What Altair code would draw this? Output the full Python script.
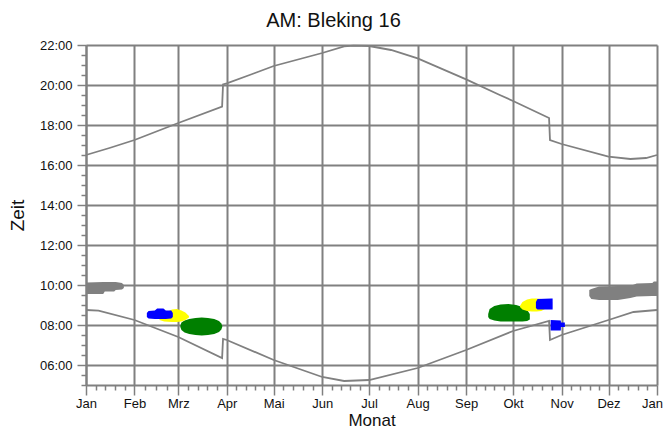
import altair as alt
import pandas as pd

# ---------------- data ----------------
month_labels = ["Jan", "Feb", "Mrz", "Apr", "Mai", "Jun", "Jul", "Aug", "Sep", "Okt", "Nov", "Dez", "Jan"]
month_start = [0, 31, 59, 90, 120, 151, 181, 212, 243, 273, 304, 334, 365]
hour_ticks = [6, 8, 10, 12, 14, 16, 18, 20, 22]

# upper curve (day of year, hour)
upper_day = [0, 15, 31, 59, 87, 87.6, 90, 104.6, 120, 151, 165, 171, 181, 195, 212, 243, 264.5, 273, 296, 296.6, 304, 334, 348, 358, 365]
upper_h = [16.5, 16.85, 17.25, 18.1, 18.92, 20.03, 20.08, 20.5, 20.95, 21.6, 21.93, 21.97, 21.95, 21.75, 21.33, 20.28, 19.5, 19.2, 18.35, 17.25, 17.05, 16.42, 16.3, 16.35, 16.5]

# lower curve
lower_day = [0, 8, 31, 59, 87, 87.6, 90, 120, 151, 165, 181, 212, 243, 273, 296, 296.6, 304, 334, 350, 365]
lower_h = [8.75, 8.72, 8.25, 7.4, 6.35, 7.3, 7.25, 6.25, 5.4, 5.2, 5.25, 5.85, 6.75, 7.7, 8.2, 7.25, 7.5, 8.25, 8.65, 8.75]

# shadow blobs: day, upper hour, lower hour
grey1_day = [0.5, 11, 12, 18, 19, 23, 24.2]
grey1_top = [10.12, 10.15, 10.15, 10.15, 10.15, 10.1, 10.0]
grey1_bot = [9.55, 9.55, 9.67, 9.67, 9.75, 9.78, 9.85]

grey2_day = [321.7, 323, 328, 340, 348, 352, 362, 363, 365]
grey2_top = [9.75, 9.8, 9.92, 9.95, 9.95, 10.08, 10.1, 10.18, 10.18]
grey2_bot = [9.45, 9.3, 9.25, 9.25, 9.35, 9.42, 9.45, 9.45, 9.45]

green1_day = [60.3, 61, 63, 66, 70, 74, 78, 82, 85, 86.5, 87.1]
green1_top = [7.95, 8.12, 8.22, 8.3, 8.35, 8.37, 8.35, 8.3, 8.2, 8.08, 7.95]
green1_bot = [7.9, 7.75, 7.62, 7.55, 7.5, 7.48, 7.5, 7.55, 7.65, 7.78, 7.9]

green2_day = [257.1, 258, 261, 265, 270, 275, 279, 282, 283.7]
green2_top = [8.55, 8.8, 8.95, 9.03, 9.05, 9.0, 8.9, 8.75, 8.55]
green2_bot = [8.4, 8.3, 8.22, 8.18, 8.17, 8.17, 8.18, 8.2, 8.28]

yellow1_day = [47, 50, 55, 58, 61, 63.5, 65.8]
yellow1_top = [8.35, 8.6, 8.78, 8.8, 8.72, 8.62, 8.45]
yellow1_bot = [8.25, 8.18, 8.15, 8.15, 8.18, 8.25, 8.38]

yellow2_day = [277.4, 279, 282, 285, 288, 291, 293.4]
yellow2_top = [8.95, 9.15, 9.27, 9.33, 9.33, 9.3, 9.2]
yellow2_bot = [8.9, 8.78, 8.7, 8.68, 8.68, 8.7, 8.8]

blue1_day = [38.9, 40, 44, 45.5, 49.5, 51, 54.5, 55.5]
blue1_top = [8.6, 8.7, 8.72, 8.83, 8.83, 8.72, 8.72, 8.6]
blue1_bot = [8.4, 8.32, 8.3, 8.3, 8.3, 8.3, 8.32, 8.4]

blue2_day = [287.6, 288.6, 297.5, 298.3]
blue2_top = [9.15, 9.3, 9.32, 9.32]
blue2_bot = [8.85, 8.78, 8.78, 8.78]

blue3_day = [297, 303.5, 303.6, 306.1]
blue3_top = [8.25, 8.22, 8.12, 8.12]
blue3_bot = [7.72, 7.72, 7.9, 7.9]

# ---------------- tables ----------------
curves = pd.concat([
    pd.DataFrame({"day": upper_day, "h": upper_h, "curve": "upper"}),
    pd.DataFrame({"day": lower_day, "h": lower_h, "curve": "lower"}),
])


def blob(name, kind, d, t, b):
    return pd.DataFrame({"day": d, "top": t, "bot": b, "blob": name, "kind": kind})


blobs = pd.concat([
    blob("g1", "grey", grey1_day, grey1_top, grey1_bot),
    blob("g2", "grey", grey2_day, grey2_top, grey2_bot),
    blob("gr1", "green", green1_day, green1_top, green1_bot),
    blob("gr2", "green", green2_day, green2_top, green2_bot),
    blob("y1", "yellow", yellow1_day, yellow1_top, yellow1_bot),
    blob("y2", "yellow", yellow2_day, yellow2_top, yellow2_bot),
    blob("b1", "blue", blue1_day, blue1_top, blue1_bot),
    blob("b2", "blue", blue2_day, blue2_top, blue2_bot),
    blob("b3", "blue", blue3_day, blue3_top, blue3_bot),
])

GRID = "#808080"
FONT = "Liberation Sans"

xscale = alt.Scale(domain=[0, 365], nice=False, zero=False)
yscale = alt.Scale(domain=[5, 22], nice=False, zero=False)

# minor tick positions
x_minor = []
for i in range(12):
    s, e = month_start[i], month_start[i + 1]
    n = 3 if e - s < 30 else 4
    for k in range(1, n + 1):
        x_minor.append(round(s + (e - s) * k / (n + 1), 2))
y_minor = [5 + 0.5 * i for i in range(35) if (5 + 0.5 * i) not in hour_ticks]

label_expr = "[" + ",".join("'%s'" % m for m in month_labels) + "][indexof([" + \
    ",".join(str(v) for v in month_start) + "], datum.value)]"

x_major_axis = alt.Axis(
    orient="bottom", values=month_start, labelExpr=label_expr, grid=True,
    gridColor=GRID, gridWidth=2, gridOpacity=1, domainColor=GRID, domainWidth=2,
    tickColor=GRID, tickWidth=1.5, tickSize=10, labelPadding=2, labelFont=FONT,
    labelFontSize=13, labelColor="#111", labelFlush=False, labelOverlap=False,
    labelOffset={"condition": {"test": "datum.value == 365", "value": -5}, "value": 0},
    title="Monat", titleFont=FONT, titleFontSize=17, titleFontWeight="normal",
    titleColor="#111", titleX=285.5, titleY=40.5, titleBaseline="alphabetic", titleAnchor="middle",
)
y_major_axis = alt.Axis(
    orient="left", values=hour_ticks,
    labelExpr="(datum.value < 10 ? '0' : '') + datum.value + ':00'", grid=True,
    gridColor=GRID, gridWidth=2, gridOpacity=1, domainColor=GRID, domainWidth=2,
    tickColor=GRID, tickWidth=1.5, tickSize=9, labelPadding=5, labelFont=FONT,
    labelFontSize=13, labelColor="#111", labelFlush=False, labelOverlap=False,
    title="Zeit", titleFont=FONT, titleFontSize=19, titleFontWeight="normal",
    titleColor="#111", titleX=-69, titleY=170, titleAngle=270, titleBaseline="middle",
    titleAlign="center",
)
x_minor_axis = alt.Axis(orient="bottom", values=x_minor, grid=False, domain=False,
                        labels=False, tickColor=GRID, tickWidth=1.5, tickSize=5, title=None)
y_minor_axis = alt.Axis(orient="left", values=y_minor, grid=False, domain=False,
                        labels=False, tickColor=GRID, tickWidth=1.5, tickSize=5, title=None)


def area_layer(kind, color):
    return alt.Chart(blobs).transform_filter(alt.datum.kind == kind).mark_area(
        color=color, opacity=1, interpolate="linear"
    ).encode(
        x=alt.X("day:Q", scale=xscale, axis=None),
        y=alt.Y("top:Q", scale=yscale, axis=None),
        y2="bot:Q",
        detail="blob:N",
    )


minor = alt.Chart(curves).mark_point(opacity=0).encode(
    x=alt.X("day:Q", scale=xscale, axis=x_minor_axis),
    y=alt.Y("h:Q", scale=yscale, axis=y_minor_axis),
)

lines = alt.Chart(curves).mark_line(color=GRID, strokeWidth=1.8).encode(
    x=alt.X("day:Q", scale=xscale, axis=x_major_axis),
    y=alt.Y("h:Q", scale=yscale, axis=y_major_axis),
    detail="curve:N",
)

chart = alt.layer(
    lines,
    area_layer("grey", GRID),
    area_layer("green", "#007f00"),
    area_layer("yellow", "#ffff00"),
    area_layer("blue", "#0000ff"),
    minor,
).resolve_axis(x="independent", y="independent").properties(
    width=571, height=340,
    title=alt.TitleParams("AM: Bleking 16", font=FONT, fontSize=20, fontWeight="normal",
                          color="#111", anchor="middle", dx=-38, offset=8),
    autosize=alt.AutoSizeParams(type="none"),
    padding={"left": 78, "top": 37, "right": 6, "bottom": 44},
).configure_view(stroke=None)

chart.save("out.html", embed_options={"renderer": "svg", "actions": False})
